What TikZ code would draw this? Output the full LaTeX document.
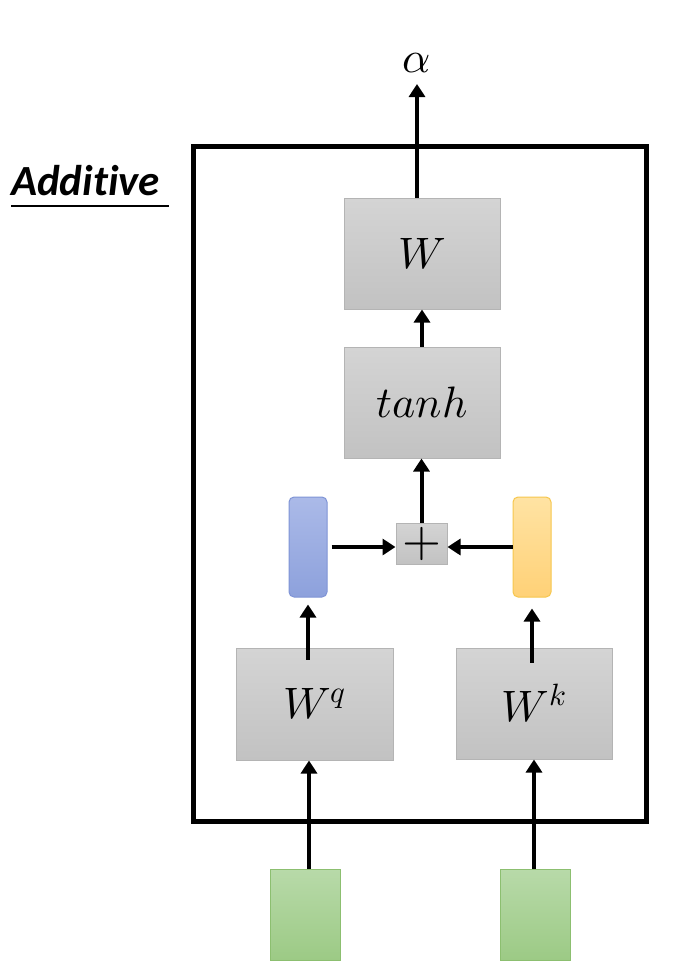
\documentclass[tikz,border=0pt]{standalone}
\usepackage{fontspec}
\usepackage{unicode-math}
\setmathfont{Latin Modern Math}
\newfontfamily\addfont[Ligatures={NoCommon}]{Carlito}
\usetikzlibrary{arrows.meta,calc}
\definecolor{gtop}{HTML}{D4D4D4}
\definecolor{gbot}{HTML}{C2C2C2}
\definecolor{gbord}{HTML}{B4B4B4}
\definecolor{btop}{HTML}{ABBAE8}
\definecolor{bbot}{HTML}{8DA1DC}
\definecolor{bbord}{HTML}{7F94D6}
\definecolor{ytop}{HTML}{FFE3A3}
\definecolor{ybot}{HTML}{FFD177}
\definecolor{ybord}{HTML}{F6C74E}
\definecolor{ngtop}{HTML}{B8DAA9}
\definecolor{ngbot}{HTML}{9CCA85}
\definecolor{ngbord}{HTML}{8CBF70}
\tikzset{
  graybox/.style={draw=gbord, line width=1pt, top color=gtop, bottom color=gbot, inner sep=0pt,
    font=\fontsize{44}{52}\selectfont},
  bluebar/.style={draw=bbord, line width=1pt, top color=btop, bottom color=bbot, rounded corners=5pt,
    minimum width=38pt, minimum height=100pt, inner sep=0pt},
  yellowbar/.style={draw=ybord, line width=1pt, top color=ytop, bottom color=ybot, rounded corners=5pt,
    minimum width=38pt, minimum height=100pt, inner sep=0pt},
  greenbox/.style={draw=ngbord, line width=1pt, top color=ngtop, bottom color=ngbot,
    minimum width=70pt, minimum height=91pt, inner sep=0pt},
  arr/.style={line width=4pt, -{Triangle[width=16pt,length=13pt]}},
  frame/.style={line width=5pt, draw=black},
}
\begin{document}
\begin{tikzpicture}[x=1pt,y=-1pt]
\useasboundingbox[fill=white] (0,0) rectangle (690,977);
% outer frame
\draw[frame] (193,146) rectangle (646,821);
% title
\node[anchor=base west, inner sep=0pt, font=\addfont\bfseries\itshape\fontsize{43}{50}\selectfont] (title) at (11,195) {Additive};
\draw[line width=1.5pt] (title.base west |- 0,206) coordinate (ul1) -- (169,206) coordinate (ul2);
% boxes
\node[graybox, minimum width=156pt, minimum height=111pt] (W) at (422,253.5) {$W$};
\node[graybox, minimum width=156pt, minimum height=111pt] (tanh) at (422,402.5) {$tanh$};
\node[graybox, minimum width=51pt, minimum height=41pt, font=\fontsize{50}{56}\selectfont] (plus) at (421.5,543.5) {$+$};
\node[bluebar] (q) at (308,547) {};
\node[yellowbar] (k) at (532,547) {};
\node[graybox, minimum width=157pt, minimum height=112pt] (Wq) at (314.5,704) {$W^q$};
\node[graybox, minimum width=156pt, minimum height=111pt] (Wk) at (534,703.5) {$W^k$};
\node[greenbox] (g1) at (305,914.5) {};
\node[greenbox] (g2) at (535,914.5) {};
% output
\node[anchor=base, inner sep=0pt, font=\fontsize{44}{52}\selectfont] (alpha) at (417,72) {$\alpha$};
\coordinate (atip) at (417,84);
% arrows
\draw[arr] (W.north -| atip) -- (atip);
\draw[arr] (tanh.north) -- (W.south);
\draw[arr] (plus.north) -- (plus.north |- tanh.south);
\draw[arr] ([xshift=4pt]q.east) -- (q.east -| plus.west);
\draw[arr] (k.west) -- (k.west -| plus.east);
\draw[arr, shorten >=7pt] ([yshift=-12pt]Wq.north -| q.south) -- (q.south);
\draw[arr, shorten >=11pt] ([yshift=-15pt]Wk.north -| k.south) -- (k.south);
\draw[arr] ([xshift=4pt]g1.north) -- ([xshift=4pt]g1.north |- Wq.south);
\draw[arr] ([xshift=-1pt]g2.north) -- ([xshift=-1pt]g2.north |- Wk.south);
\end{tikzpicture}
\end{document}
